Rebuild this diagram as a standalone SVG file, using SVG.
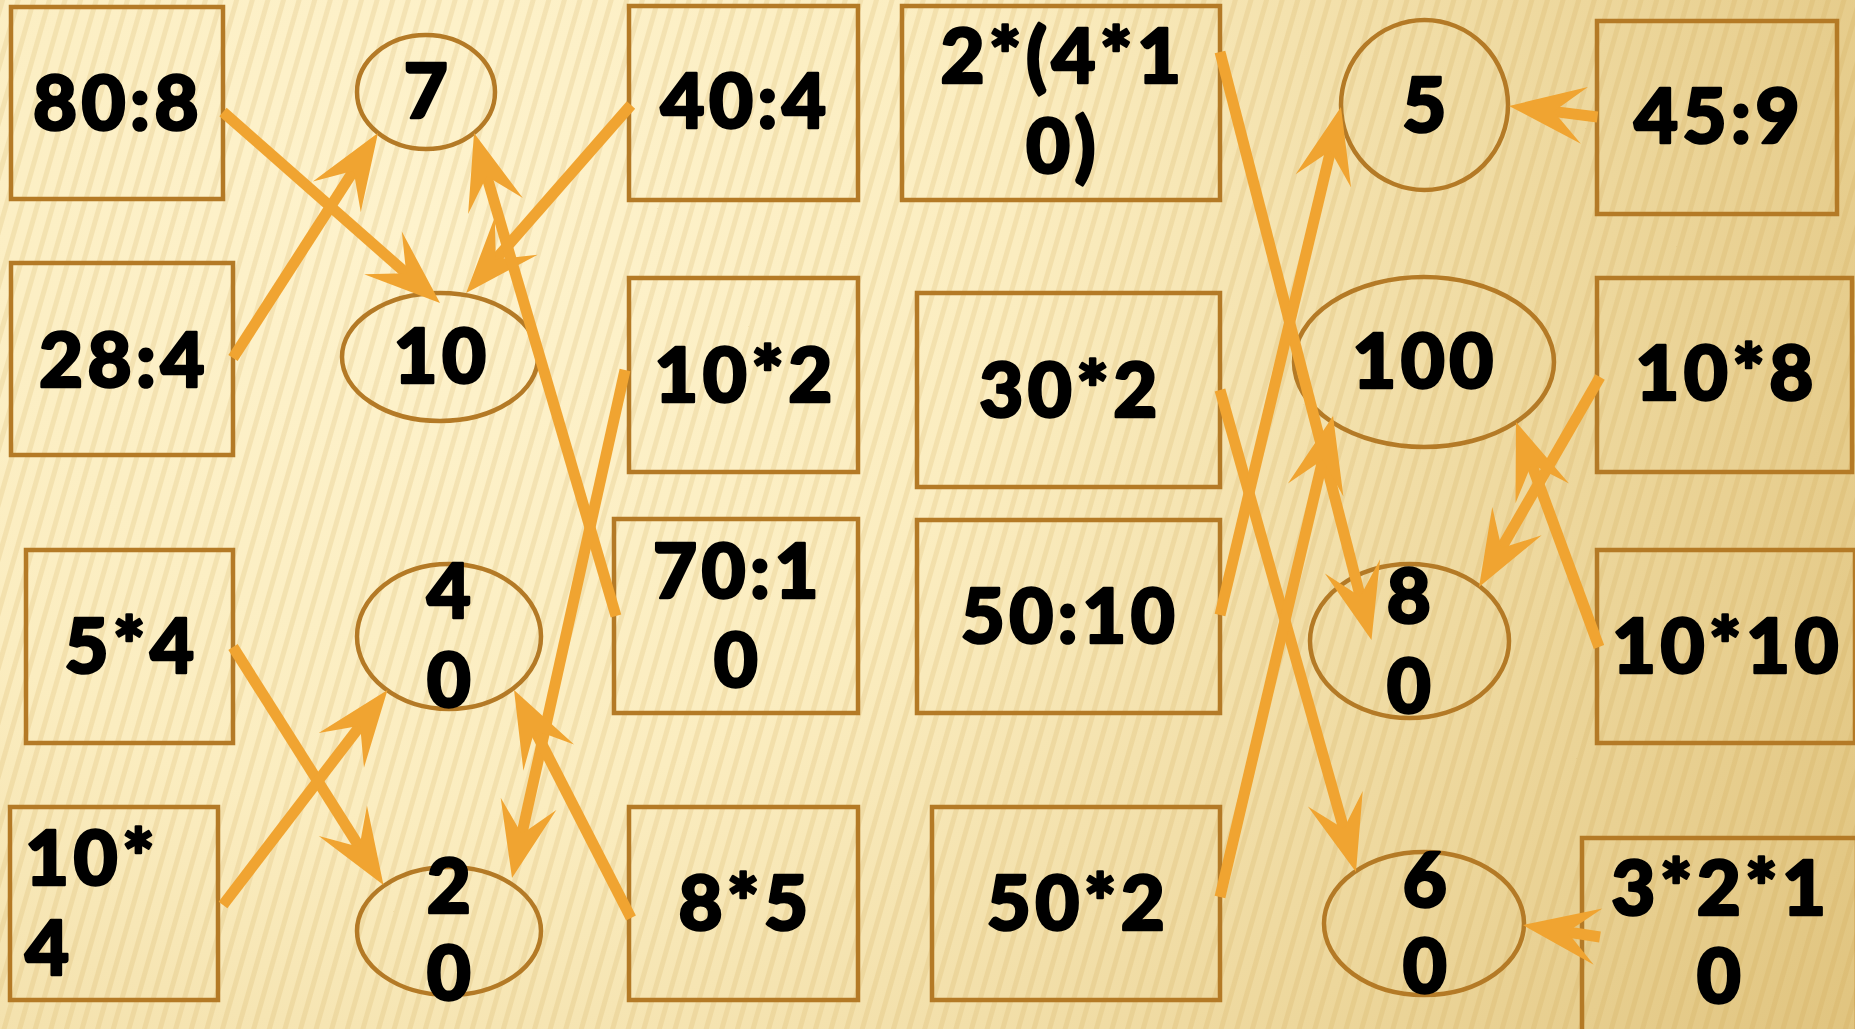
<svg xmlns="http://www.w3.org/2000/svg" width="1855" height="1029" viewBox="0 0 1855 1029">
<defs>
<radialGradient id="bg" cx="420" cy="220" r="1700" gradientUnits="userSpaceOnUse">
<stop offset="0" stop-color="#FEF3CD"/>
<stop offset="0.35" stop-color="#FBEDC0"/>
<stop offset="0.7" stop-color="#EDD79C"/>
<stop offset="1" stop-color="#DFC27C"/>
</radialGradient>
<pattern id="stripes" width="15" height="40" patternUnits="userSpaceOnUse" patternTransform="rotate(16)">
<rect x="0" y="0" width="5" height="40" fill="#C69C45" opacity="0.16"/>
</pattern>
<marker id="ah" markerUnits="userSpaceOnUse" viewBox="-50 -40 100 80" markerWidth="100" markerHeight="80" refX="0" refY="0" orient="auto">
<path d="M40,0 L-36,-28.5 L-5,0 L-36,28.5 Z" fill="#F0A431"/>
</marker>
</defs>
<style>
.box{fill:none;stroke:#B47A26;stroke-width:4.5}
.ell{fill:none;stroke:#B47A26;stroke-width:4.5}
.t{font-family:Lato,"Liberation Sans",sans-serif;font-weight:900;font-size:76px;fill:#000;stroke:#000;stroke-width:2.6px;stroke-linejoin:round;text-anchor:middle;letter-spacing:4.5px}
.tl{text-anchor:start}
.c{fill:none;stroke:#F0A431;stroke-width:11;stroke-linecap:butt;marker-end:url(#ah)}
</style>
<rect x="0" y="0" width="1855" height="1029" fill="url(#bg)"/>
<rect x="0" y="0" width="1855" height="1029" fill="url(#stripes)"/>

<g id="n-80-8"><rect class="box" x="11" y="7" width="212" height="192"/><text class="t" x="118" y="130">80:8</text></g>
<g id="n-28-4"><rect class="box" x="11" y="263" width="222" height="192"/><text class="t" x="124" y="387">28:4</text></g>
<g id="n-5x4"><rect class="box" x="26" y="550" width="207" height="193"/><text class="t" x="131.5" y="673">5*4</text></g>
<g id="n-10x4"><rect class="box" x="10" y="807" width="208" height="193"/><text class="t tl" x="25" y="885">10*</text><text class="t tl" x="25" y="975">4</text></g>

<g id="n-7"><ellipse class="ell" cx="426" cy="92" rx="69" ry="57"/><text class="t" x="428" y="118">7</text></g>
<g id="n-10"><ellipse class="ell" cx="440" cy="357" rx="98" ry="64"/><text class="t" x="442" y="383">10</text></g>
<g id="n-40"><ellipse class="ell" cx="449" cy="636.5" rx="92" ry="72.5"/><text class="t" x="451" y="618">4</text><text class="t" x="451" y="707">0</text></g>
<g id="n-20"><ellipse class="ell" cx="449" cy="931" rx="92" ry="64"/><text class="t" x="451" y="913">2</text><text class="t" x="451" y="1000">0</text></g>

<g id="n-40-4"><rect class="box" x="629" y="6" width="229" height="194"/><text class="t" x="745.5" y="128">40:4</text></g>
<g id="n-10x2"><rect class="box" x="629" y="278" width="229" height="194"/><text class="t" x="745.5" y="402">10*2</text></g>
<g id="n-70-10"><rect class="box" x="614" y="519" width="244" height="194"/><text class="t" x="738" y="598">70:1</text><text class="t" x="738" y="687">0</text></g>
<g id="n-8x5"><rect class="box" x="629" y="807" width="229" height="193"/><text class="t" x="745.5" y="930">8*5</text></g>

<g id="n-2x4x10"><rect class="box" x="902" y="6" width="318" height="194"/><text class="t" x="1063" y="83">2*(4*1</text><text class="t" x="1063" y="173">0)</text></g>
<g id="n-30x2"><rect class="box" x="917" y="293" width="303" height="194"/><text class="t" x="1070.5" y="417">30*2</text></g>
<g id="n-50-10"><rect class="box" x="917" y="520" width="303" height="193"/><text class="t" x="1070" y="643">50:10</text></g>
<g id="n-50x2"><rect class="box" x="932" y="807" width="288" height="193"/><text class="t" x="1078" y="930">50*2</text></g>

<g id="n-5"><ellipse class="ell" cx="1424.5" cy="105" rx="83.5" ry="85"/><text class="t" x="1426.5" y="132">5</text></g>
<g id="n-100"><ellipse class="ell" cx="1424" cy="362" rx="130" ry="85"/><text class="t" x="1425" y="388">100</text></g>
<g id="n-80"><ellipse class="ell" cx="1409.5" cy="641" rx="99.5" ry="77"/><text class="t" x="1411" y="623">8</text><text class="t" x="1411" y="713">0</text></g>
<g id="n-60"><ellipse class="ell" cx="1424" cy="923.5" rx="100" ry="71.5"/><text class="t" x="1427" y="907">6</text><text class="t" x="1427" y="993">0</text></g>

<g id="n-45-9"><rect class="box" x="1597" y="21" width="240" height="193"/><text class="t" x="1719" y="143">45:9</text></g>
<g id="n-10x8"><rect class="box" x="1597" y="278" width="255" height="194"/><text class="t" x="1726.5" y="400">10*8</text></g>
<g id="n-10x10"><rect class="box" x="1597" y="550" width="258" height="193"/><text class="t" x="1727.5" y="673">10*10</text></g>
<g id="n-3x2x10"><rect class="box" x="1582" y="838" width="275" height="194"/><text class="t" x="1721" y="915">3*2*1</text><text class="t" x="1721" y="1003">0</text></g>

<g id="connectors">
<path class="c" d="M223,112 L410,276.6"/>
<path class="c" d="M233,358 L356.3,166.6"/>
<path class="c" d="M631,105 L492.5,263"/>
<path class="c" d="M616,616 L485.3,171.4"/>
<path class="c" d="M625,370 L520.7,839"/>
<path class="c" d="M631,918 L532.3,725.6"/>
<path class="c" d="M233,647 L362.1,851.2"/>
<path class="c" d="M223,905 L363.2,721.8"/>
<path class="c" d="M1220,52 L1361.5,601.3"/>
<path class="c" d="M1220,390 L1345.1,833.5"/>
<path class="c" d="M1220,615 L1331.7,145.9"/>
<path class="c" d="M1220,897 L1323.9,454.9"/>
<path class="c" d="M1597.5,117 L1548.7,110.9"/>
<path class="c" d="M1600,377 L1499,552.3"/>
<path class="c" d="M1599,647 L1529.8,459.5"/>
<path class="c" d="M1600,937 L1562.5,931.2"/>
</g>
</svg>
